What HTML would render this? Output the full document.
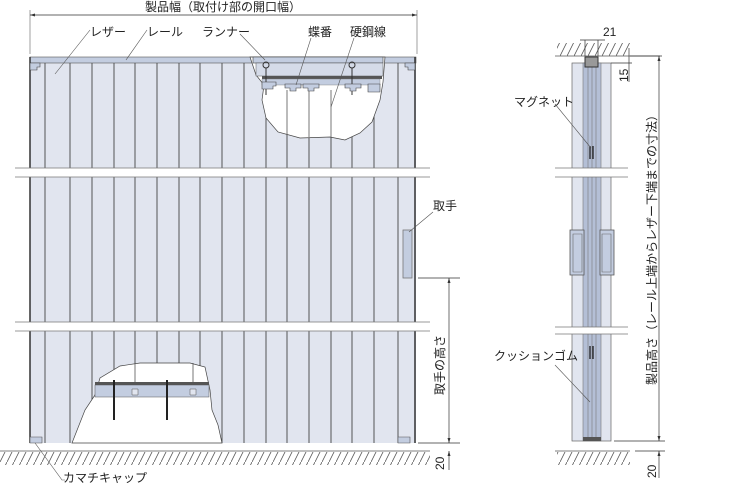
<!DOCTYPE html>
<html><head><meta charset="utf-8"><style>
html,body{margin:0;padding:0;background:#fff;}
svg{display:block;font-family:"Liberation Sans","Noto Sans CJK JP",sans-serif;}
</style></head><body>
<svg width="740" height="485" viewBox="0 0 740 485" xmlns="http://www.w3.org/2000/svg">
<defs>
<pattern id="h" width="7" height="14" patternUnits="userSpaceOnUse"><path d="M7,0 L0,14" stroke="#555" stroke-width="0.8"/></pattern>
</defs>
<line x1="30" y1="10" x2="30" y2="54" stroke="#888" stroke-width="0.8"/>
<line x1="417" y1="10" x2="417" y2="54" stroke="#888" stroke-width="0.8"/>
<line x1="30" y1="15" x2="417" y2="15" stroke="#333" stroke-width="0.7"/>
<path d="M30,15 l5,-1.5 v3z M417,15 l-5,-1.5 v3z" fill="#333"/>
<text x="145" y="11" font-size="12" fill="#222">製品幅（取付け部の開口幅）</text>
<rect x="30" y="57" width="386" height="386" fill="#e1e5ef"/>
<rect x="30" y="57" width="386" height="6" fill="#c3cde0" stroke="#555" stroke-width="0.6"/>
<g stroke="#444" stroke-width="0.9">
<line x1="45" y1="63" x2="45" y2="443"/><line x1="70" y1="63" x2="70" y2="443"/><line x1="92" y1="63" x2="92" y2="443"/><line x1="114" y1="63" x2="114" y2="443"/><line x1="135" y1="63" x2="135" y2="443"/><line x1="157" y1="63" x2="157" y2="443"/><line x1="179" y1="63" x2="179" y2="443"/><line x1="200" y1="63" x2="200" y2="443"/><line x1="222" y1="63" x2="222" y2="443"/><line x1="244" y1="63" x2="244" y2="443"/><line x1="266" y1="63" x2="266" y2="443"/><line x1="287" y1="63" x2="287" y2="443"/><line x1="309" y1="63" x2="309" y2="443"/><line x1="331" y1="63" x2="331" y2="443"/><line x1="352" y1="63" x2="352" y2="443"/><line x1="374" y1="63" x2="374" y2="443"/><line x1="398" y1="63" x2="398" y2="443"/>
</g>
<line x1="30" y1="57" x2="30" y2="443" stroke="#333" stroke-width="1.5"/>
<line x1="415" y1="57" x2="415" y2="443" stroke="#333" stroke-width="1.5"/>
<path d="M30,63 h10 v4 h-3 v3 h-7z" fill="#c3cde0" stroke="#444" stroke-width="0.6"/>
<path d="M415,63 h-10 v4 h3 v3 h7z" fill="#c3cde0" stroke="#444" stroke-width="0.6"/>
<!-- cutaway top -->
<path d="M250,57 L256,75 L264,85 L262,100 L266,118 L278,132 L300,138 L330,137 L345,140 L360,133 L372,122 L380,100 L383,82 L385,57Z" fill="#fff" stroke="#444" stroke-width="0.7"/>
<g stroke="#555" stroke-width="0.8"><line x1="287" y1="90" x2="287" y2="137"/><line x1="331" y1="90" x2="331" y2="137"/><line x1="309" y1="90" x2="309" y2="137"/></g>
<rect x="253" y="57" width="130" height="6" fill="#c3cde0" stroke="#444" stroke-width="0.6"/>
<rect x="256" y="63" width="127" height="13" fill="#d5dbe8" stroke="#555" stroke-width="0.5"/>
<rect x="262" y="76" width="120" height="3" fill="#555"/>
<rect x="262" y="79" width="118" height="6" fill="#c3cde0" stroke="#777" stroke-width="0.4"/>
<circle cx="266" cy="65" r="3" fill="none" stroke="#333"/><circle cx="352" cy="65" r="3" fill="none" stroke="#333"/>
<g stroke="#333" stroke-width="1"><line x1="266" y1="68" x2="266" y2="95"/><line x1="352" y1="68" x2="352" y2="95"/></g>
<path d="M262,82 h14 v4 h-3 v3 h-11z M285,84 h16 v4 h-5 v3 h-6 v-3 h-5z M303,84 h16 v4 h-5 v3 h-6 v-3 h-5z M345,84 h16 v4 h-5 v3 h-6 v-3 h-5z M368,84 h12 v8 h-12z" fill="#c3cde0" stroke="#444" stroke-width="0.6"/>
<!-- bands -->
<rect x="15" y="168" width="415" height="9" fill="#fff"/>
<g stroke="#777" stroke-width="0.8"><line x1="15" y1="168" x2="430" y2="168"/><line x1="15" y1="177" x2="430" y2="177"/></g>
<rect x="15" y="322" width="415" height="9" fill="#fff"/>
<g stroke="#777" stroke-width="0.8"><line x1="15" y1="322" x2="430" y2="322"/><line x1="15" y1="331" x2="430" y2="331"/></g>
<rect x="403" y="230" width="9" height="48" fill="#c3cde0" stroke="#777" stroke-width="0.8"/>
<!-- cutaway bottom -->
<path d="M72,443 L85,410 L95,395 L100,378 L120,366 L140,363 L190,363 L205,367 L210,390 L212,410 L218,425 L222,443Z" fill="#fff" stroke="#444" stroke-width="0.7"/>
<g stroke="#555" stroke-width="0.8"><line x1="135" y1="363" x2="135" y2="383"/><line x1="193" y1="363" x2="193" y2="383"/></g>
<rect x="95" y="382" width="114" height="3" fill="#555"/>
<rect x="95" y="385" width="114" height="12" fill="#c3cde0" stroke="#555" stroke-width="0.5"/>
<path d="M132,389 h6 v6 h-6z M190,389 h6 v6 h-6z" fill="#e1e5ef" stroke="#555" stroke-width="0.5"/>
<g stroke="#222" stroke-width="2"><line x1="114" y1="380" x2="114" y2="420"/><line x1="167" y1="380" x2="167" y2="420"/></g>
<path d="M30,437 h12 v6 h-12z M398,437 h12 v6 h-12z" fill="#c3cde0" stroke="#555" stroke-width="0.6"/>
<line x1="0" y1="451" x2="430" y2="451" stroke="#555" stroke-width="0.8"/>
<rect x="0" y="452" width="430" height="13" fill="url(#h)"/>
<g stroke="#333" stroke-width="0.7">
<line x1="418" y1="278" x2="460" y2="278"/><line x1="418" y1="443" x2="460" y2="443"/>
<line x1="449" y1="278" x2="449" y2="443"/><line x1="449" y1="451" x2="449" y2="470"/>
</g>
<path d="M449,278 l-1.5,5 h3z M449,443 l-1.5,-5 h3z M449,451 l-1.5,5 h3z" fill="#333"/>
<text transform="translate(444,395) rotate(-90)" font-size="12" fill="#222">取手の高さ</text>
<text transform="translate(444,470) rotate(-90)" font-size="12" fill="#222">20</text>
<g font-size="12" fill="#222">
<text x="90" y="36">レザー</text><text x="147" y="36">レール</text><text x="202" y="36">ランナー</text>
<text x="308" y="36">蝶番</text><text x="350" y="36">硬鋼線</text><text x="433" y="210">取手</text>
<text x="63" y="482">カマチキャップ</text>
</g>
<g stroke="#555" stroke-width="0.6" fill="none">
<line x1="90" y1="30" x2="55" y2="74"/><line x1="147" y1="30" x2="126" y2="60"/><line x1="240" y1="34" x2="265" y2="60"/>
<line x1="311" y1="38" x2="296" y2="85"/><line x1="354" y1="38" x2="331" y2="107"/><line x1="433" y1="212" x2="409" y2="232"/>
<polyline points="35,443 62,480 65,480"/>
</g>
<!-- side view -->
<line x1="555" y1="56" x2="660" y2="56" stroke="#555" stroke-width="0.8"/>
<rect x="557" y="43" width="73" height="13" fill="url(#h)"/>
<rect x="572" y="63" width="39" height="378" fill="#e1e5ef" stroke="#666" stroke-width="0.7"/>
<rect x="583" y="63" width="18" height="378" fill="#b4bfd6" stroke="#777" stroke-width="0.6"/>
<g stroke="#777" stroke-width="0.6"><line x1="588" y1="63" x2="588" y2="441"/><line x1="592" y1="63" x2="592" y2="441"/><line x1="596" y1="63" x2="596" y2="441"/></g>
<rect x="585" y="57" width="13" height="10" fill="#999" stroke="#333"/>
<path d="M570,230 h14 v45 h-14z M600,230 h14 v45 h-14z" fill="#c3cde0" stroke="#555" stroke-width="0.8"/>
<path d="M573,234 h9 v38 h-9z M602,234 h9 v38 h-9z" fill="none" stroke="#666" stroke-width="0.6"/>
<rect x="555" y="168" width="70" height="9" fill="#fff"/>
<g stroke="#777" stroke-width="0.8"><line x1="555" y1="168" x2="628" y2="168"/><line x1="555" y1="177" x2="628" y2="177"/></g>
<rect x="555" y="327" width="70" height="7" fill="#fff"/>
<g stroke="#777" stroke-width="0.8"><line x1="555" y1="327" x2="628" y2="327"/><line x1="555" y1="334" x2="628" y2="334"/></g>
<g stroke="#111" stroke-width="1.2"><line x1="590" y1="146" x2="590" y2="159"/><line x1="593" y1="146" x2="593" y2="159"/><line x1="590" y1="346" x2="590" y2="359"/><line x1="593" y1="346" x2="593" y2="359"/></g>
<rect x="583" y="437" width="18" height="4" fill="#555"/>
<line x1="555" y1="451" x2="630" y2="451" stroke="#555" stroke-width="0.8"/>
<rect x="557" y="452" width="73" height="13" fill="url(#h)"/>
<g stroke="#333" stroke-width="0.7">
<line x1="585" y1="40" x2="585" y2="56"/><line x1="598" y1="40" x2="598" y2="56"/><line x1="580" y1="40" x2="605" y2="40"/>
<line x1="630" y1="56" x2="662" y2="56"/><line x1="611" y1="63" x2="632" y2="63"/>
<line x1="629" y1="48" x2="629" y2="82"/>
<line x1="659" y1="56" x2="659" y2="441"/><line x1="614" y1="441" x2="665" y2="441"/>
<line x1="635" y1="451" x2="665" y2="451"/><line x1="659" y1="451" x2="659" y2="478"/>
</g>
<path d="M659,56 l-1.5,5 h3z M659,441 l-1.5,-5 h3z M659,451 l-1.5,5 h3z" fill="#333"/>
<text x="603" y="36" font-size="12" fill="#222">21</text>
<text transform="translate(628,82) rotate(-90)" font-size="12" fill="#222">15</text>
<text transform="translate(656,385) rotate(-90)" font-size="12" fill="#222">製品高さ（レール上端からレザー下端までの寸法）</text>
<text transform="translate(656,478) rotate(-90)" font-size="12" fill="#222">20</text>
<g font-size="12" fill="#222"><text x="514" y="106">マグネット</text><text x="494" y="360">クッションゴム</text></g>
<g stroke="#555" stroke-width="0.6"><line x1="555" y1="104" x2="591" y2="148"/><line x1="555" y1="365" x2="590" y2="402"/></g>
</svg>
</body></html>
